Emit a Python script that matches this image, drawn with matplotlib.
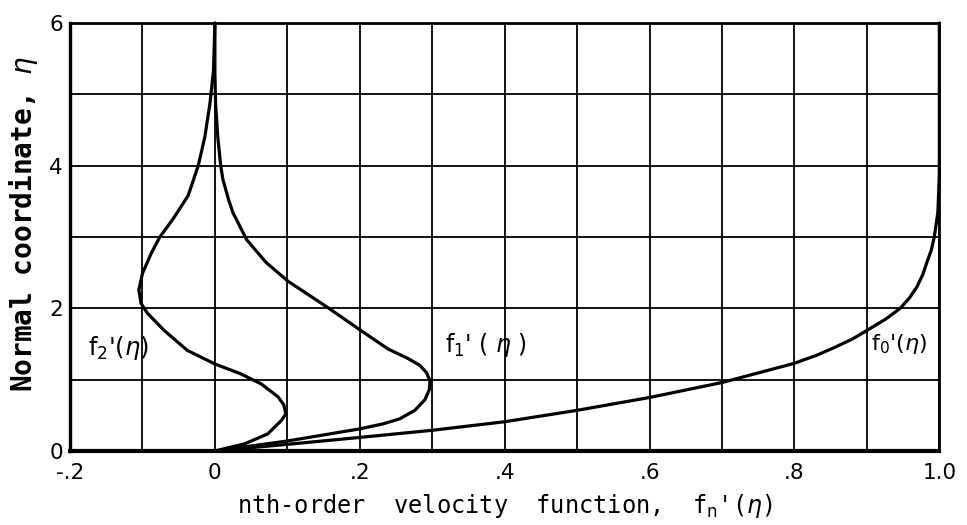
import matplotlib
matplotlib.use("Agg")
import matplotlib.pyplot as plt

# Velocity profiles f_n'(eta) against the normal coordinate eta
eta_f0 = [0, 0.093, 0.19, 0.29, 0.41, 0.57, 0.75, 0.96, 1.1, 1.23, 1.34, 1.45, 1.57,
          1.69, 1.85, 2.0, 2.15, 2.3, 2.47, 2.65, 2.82, 3.0, 3.35, 3.9, 6.0]
f0 = [0, 0.10, 0.20, 0.30, 0.40, 0.50, 0.60, 0.70, 0.752, 0.80, 0.83, 0.855, 0.88,
      0.90, 0.926, 0.946, 0.959, 0.969, 0.977, 0.983, 0.989, 0.993, 0.998, 1.0, 1.0]

eta_f1 = [0, 0.14, 0.31, 0.38, 0.45, 0.57, 0.72, 0.86, 0.98, 1.1, 1.2, 1.3, 1.43,
          1.70, 2.01, 2.38, 2.64, 2.96, 3.34, 3.52, 3.81, 4.0, 4.4, 4.86, 5.3, 6.0]
f1 = [0, 0.10, 0.20, 0.232, 0.255, 0.276, 0.290, 0.296, 0.297, 0.292, 0.283, 0.266,
      0.239, 0.20, 0.156, 0.101, 0.071, 0.044, 0.025, 0.019, 0.011, 0.008, 0.004,
      0.001, 0.0, 0.0]

eta_f2 = [0, 0.10, 0.24, 0.43, 0.52, 0.65, 0.76, 0.94, 1.08, 1.22, 1.41, 1.69, 1.93,
          2.07, 2.26, 2.49, 2.77, 3.0, 3.25, 3.58, 4.0, 4.4, 4.86, 5.32, 6.0]
f2 = [0, 0.041, 0.073, 0.092, 0.098, 0.095, 0.087, 0.064, 0.036, 0.0, -0.038, -0.070,
      -0.093, -0.102, -0.105, -0.100, -0.088, -0.076, -0.058, -0.037, -0.023, -0.014,
      -0.007, -0.002, 0.0]

x_ticks = [-0.2, -0.1, 0.0, 0.1, 0.2, 0.3, 0.4, 0.5, 0.6, 0.7, 0.8, 0.9, 1.0]
x_tick_labels = ["-.2", "", "0", "", ".2", "", ".4", "", ".6", "", ".8", "", "1.0"]
y_ticks = [0, 1, 2, 3, 4, 5, 6]
y_tick_labels = ["0", "", "2", "", "4", "", "6"]

curve_labels = ["f$_0$'($\\eta$)", "f$_1$' ( $\\eta$ )", "f$_2$'($\\eta$)"]

plt.rcParams["mathtext.fontset"] = "dejavusans"

fig = plt.figure(figsize=(9.67, 5.25), dpi=100)
ax = fig.add_axes([0.0724, 0.141, 0.899, 0.815])

for xs, ys in [(f0, eta_f0), (f1, eta_f1), (f2, eta_f2)]:
    ax.plot(xs, ys, color="black", lw=2.3, solid_joinstyle="round",
            solid_capstyle="round", zorder=3, clip_on=False)

ax.set_xlim(-0.2, 1.0)
ax.set_ylim(0, 6)
ax.set_xticks(x_ticks)
ax.set_xticklabels(x_tick_labels)
ax.set_yticks(y_ticks)
ax.set_yticklabels(y_tick_labels)
ax.tick_params(length=0, labelsize=15.5)
ax.tick_params(axis="x", pad=9)
ax.tick_params(axis="y", pad=5)
ax.grid(True, color="black", lw=1.3)
ax.set_axisbelow(True)

for side, lw in [("left", 2.4), ("bottom", 3.0), ("right", 2.0), ("top", 2.0)]:
    ax.spines[side].set_linewidth(lw)

ax.set_xlabel("nth-order  velocity  function,  f$_\\mathrm{n}$'($\\eta$)",
              family="DejaVu Sans Mono", fontsize=17, labelpad=6)
ax.set_ylabel("Normal coordinate, $\\eta$", family="DejaVu Sans Mono",
              fontweight="bold", fontsize=20)
ax.yaxis.set_label_coords(-0.0345, 0.53)

ax.text(-0.175, 1.45, curve_labels[2], fontsize=17.5, va="center", ha="left")
ax.text(0.318, 1.48, curve_labels[1], fontsize=17, va="center", ha="left")
ax.text(0.905, 1.5, curve_labels[0], fontsize=16, va="center", ha="left")

fig.savefig("out.png", dpi=100, facecolor="white")
